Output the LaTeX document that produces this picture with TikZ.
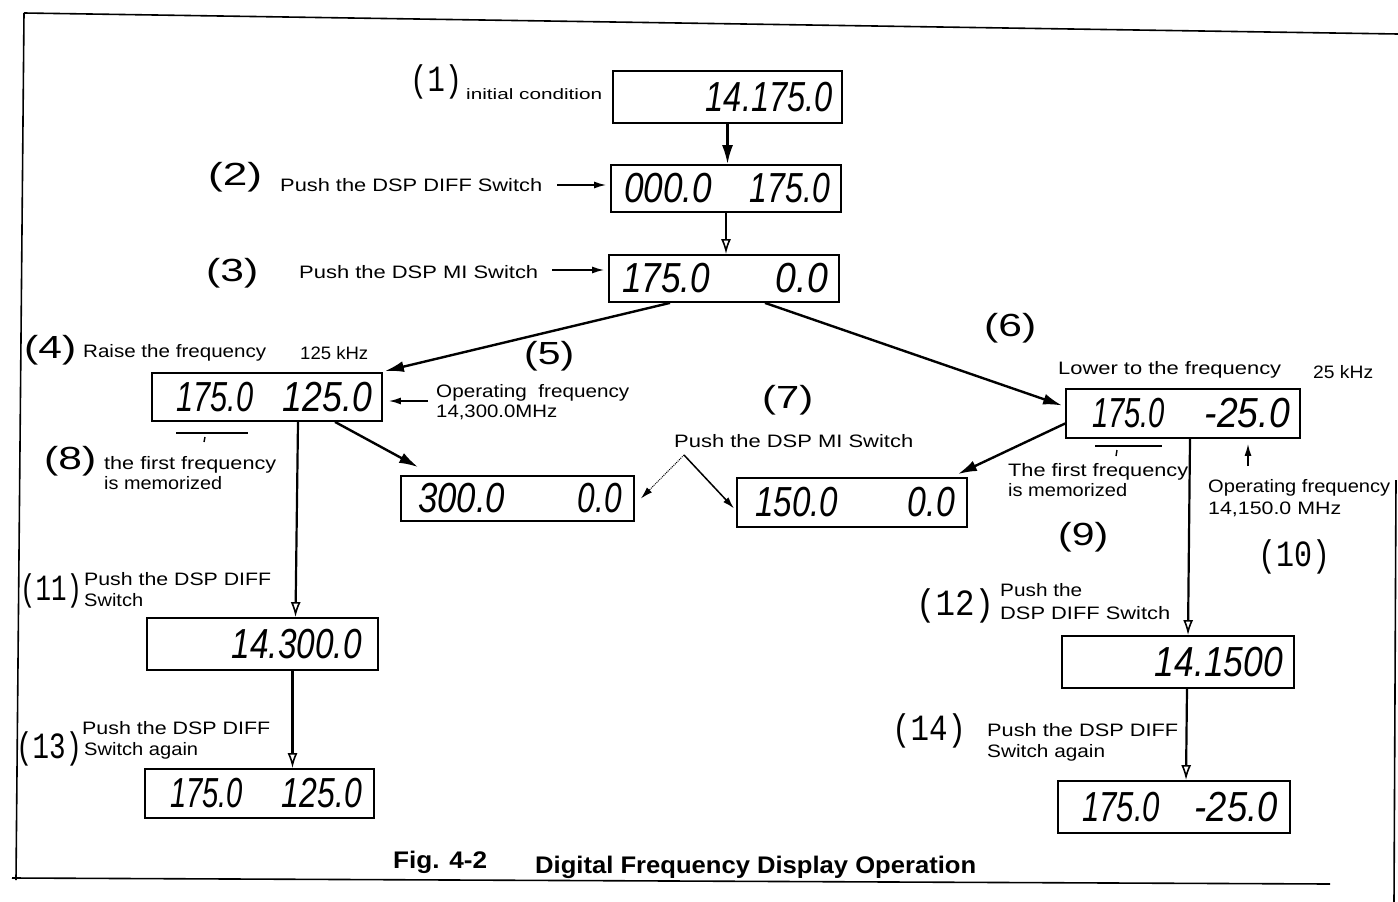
\documentclass[tikz,border=0pt]{standalone}
\usepackage{fontspec}
\usepackage{graphicx}
\setmainfont{Liberation Sans}
\newfontfamily\monof{Liberation Mono}
\usetikzlibrary{arrows.meta,calc}
\newcommand{\fitw}[2]{\resizebox{#1pt}{\height}{#2}}
\begin{document}
\begin{tikzpicture}[x=1pt,y=-1pt,
  lcd/.style={draw, line width=1.8pt, inner sep=0pt},
  seg/.style={inner sep=0pt, font=\fontsize{42}{42}\selectfont\itshape},
  lbl/.style={inner sep=0pt, anchor=base west, font=\fontsize{18}{20}\selectfont},
  slbl/.style={inner sep=0pt, anchor=base west, font=\fontsize{15}{17}\selectfont},
  num/.style={inner sep=0pt, anchor=west, font=\fontsize{32}{34}\selectfont},
  mnum/.style={inner sep=0pt, anchor=west, font=\monof\fontsize{37}{38}\selectfont},
  captxt/.style={inner sep=0pt, anchor=base west, font=\fontsize{24}{26}\selectfont\bfseries},
  conn/.style={line width=2.4pt, -{Latex[length=19pt,width=11pt]}},
  oconn/.style={line width=2.2pt, -{Latex[open,length=15pt,width=10pt,line width=1.6pt]}},
  sconn/.style={line width=1.5pt, -{Latex[length=12pt,width=7pt]}},
  framel/.style={line width=1.6pt}]
\useasboundingbox (0,0) rectangle (1398,902);

% frame
\draw[framel] (24,13) -- (1398,34);
\draw[framel] (24,13) -- (16,880);
\draw[framel] (12,878) -- (1330,884);
\draw[framel] (1396,480) -- (1394,902);

% display boxes
\node[lcd, minimum width=229pt, minimum height=52pt] (B1) at (727.5,97) {};
\node[lcd, minimum width=230pt, minimum height=47pt] (B2) at (726,188.5) {};
\node[lcd, minimum width=230pt, minimum height=47pt] (B3) at (724,278.5) {};
\node[lcd, minimum width=230pt, minimum height=48pt] (B4) at (267,397) {};
\node[lcd, minimum width=233pt, minimum height=45pt] (B5) at (517.5,498.5) {};
\node[lcd, minimum width=230pt, minimum height=49pt] (B7) at (852,502.5) {};
\node[lcd, minimum width=234pt, minimum height=49pt] (B6) at (1183,413.5) {};
\node[lcd, minimum width=231pt, minimum height=52pt] (B11) at (262.5,644) {};
\node[lcd, minimum width=229pt, minimum height=49pt] (B13) at (259.5,793.5) {};
\node[lcd, minimum width=232pt, minimum height=52pt] (B12) at (1178,662) {};
\node[lcd, minimum width=232pt, minimum height=52pt] (B15) at (1174,807) {};

% display readings
\node[seg, anchor=east] (B1r) at (833,97) {\fitw{127}{14.175.0}};
\node[seg, anchor=west] (B2l) at (624,188.5) {\fitw{88}{000.0}};
\node[seg, anchor=east] (B2r) at (830,188.5) {\fitw{80}{175.0}};
\node[seg, anchor=west] (B3l) at (622,278.5) {\fitw{88}{175.0}};
\node[seg, anchor=east] (B3r) at (828,278.5) {\fitw{52}{0.0}};
\node[seg, anchor=west] (B4l) at (176,397) {\fitw{77}{175.0}};
\node[seg, anchor=east] (B4r) at (372,397) {\fitw{89}{125.0}};
\node[seg, anchor=west] (B5l) at (418,498.5) {\fitw{87}{300.0}};
\node[seg, anchor=east] (B5r) at (622,498.5) {\fitw{44}{0.0}};
\node[seg, anchor=west] (B7l) at (755,502.5) {\fitw{83}{150.0}};
\node[seg, anchor=east] (B7r) at (955,502.5) {\fitw{47}{0.0}};
\node[seg, anchor=west] (B6l) at (1092,413.5) {\fitw{73}{175.0}};
\node[seg, anchor=east] (B6r) at (1290,413.5) {\fitw{85}{-25.0}};
\node[seg, anchor=east] (B11r) at (362,644) {\fitw{130}{14.300.0}};
\node[seg, anchor=west] (B13l) at (170,793.5) {\fitw{73}{175.0}};
\node[seg, anchor=east] (B13r) at (362,793.5) {\fitw{80}{125.0}};
\node[seg, anchor=east] (B12r) at (1283,662) {\fitw{128}{14.1500}};
\node[seg, anchor=west] (B15l) at (1082,807) {\fitw{78}{175.0}};
\node[seg, anchor=east] (B15r) at (1278,807) {\fitw{83}{-25.0}};

% step numbers
\node[mnum] (n1) at (410,82) {\fitw{52}{(1)}};
\node[num] (n2) at (208,177) {\fitw{54}{(2)}};
\node[num] (n3) at (206,273) {\fitw{52}{(3)}};
\node[num] (n4) at (24,350) {\fitw{52}{(4)}};
\node[num] (n5) at (524,356) {\fitw{50}{(5)}};
\node[num] (n6) at (984,328) {\fitw{52}{(6)}};
\node[num] (n7) at (762,400) {\fitw{51}{(7)}};
\node[num] (n8) at (44,461) {\fitw{52}{(8)}};
\node[num] (n9) at (1058,537) {\fitw{50}{(9)}};
\node[mnum] (n10) at (1258,557) {\fitw{72}{(10)}};
\node[mnum] (n11) at (20,591) {\fitw{62}{(11)}};
\node[mnum] (n12) at (916,606) {\fitw{78}{(12)}};
\node[mnum] (n13) at (16,749) {\fitw{66}{(13)}};
\node[mnum] (n14) at (892,731) {\fitw{74}{(14)}};

% labels
\node[slbl] (L1) at (466,99) {\fitw{136}{initial condition}};
\node[lbl] (L2) at (280,191) {\fitw{262}{Push the DSP DIFF Switch}};
\node[lbl] (L3) at (299,278) {\fitw{239}{Push the DSP MI Switch}};
\node[lbl] (L4) at (83,357) {\fitw{183}{Raise the frequency}};
\node[lbl] (L4k) at (300,359) {\fitw{68}{125 kHz}};
\node[lbl] (L5a) at (436,397) {\fitw{193}{Operating \ frequency}};
\node[lbl] (L5b) at (436,417) {\fitw{121}{14,300.0MHz}};
\node[lbl] (L6) at (1058,374) {\fitw{223}{Lower to the frequency}};
\node[lbl] (L6k) at (1313,378) {\fitw{60}{25 kHz}};
\node[lbl] (L7) at (674,447) {\fitw{239}{Push the DSP MI Switch}};
\node[lbl] (L8a) at (104,469) {\fitw{172}{the first frequency}};
\node[lbl] (L8b) at (104,489) {\fitw{118}{is memorized}};
\node[lbl] (L9a) at (1008,476) {\fitw{180}{The first frequency}};
\node[lbl] (L9b) at (1008,496) {\fitw{119}{is memorized}};
\node[lbl] (L10a) at (1208,492) {\fitw{182}{Operating frequency}};
\node[lbl] (L10b) at (1208,514) {\fitw{133}{14,150.0 MHz}};
\node[lbl] (L11a) at (84,585) {\fitw{187}{Push the DSP DIFF}};
\node[lbl] (L11b) at (84,606) {\fitw{59}{Switch}};
\node[lbl] (L12a) at (1000,596) {\fitw{82}{Push the}};
\node[lbl] (L12b) at (1000,619) {\fitw{170}{DSP DIFF Switch}};
\node[lbl] (L13a) at (82,734) {\fitw{188}{Push the DSP DIFF}};
\node[lbl] (L13b) at (84,755) {\fitw{114}{Switch again}};
\node[lbl] (L14a) at (987,736) {\fitw{191}{Push the DSP DIFF}};
\node[lbl] (L14b) at (987,757) {\fitw{118}{Switch again}};

% caption
\node[captxt] (C1) at (393,868) {\fitw{94}{Fig. 4-2}};
\node[captxt] (C2) at (535,873) {\fitw{441}{Digital Frequency Display Operation}};

% main connectors
\draw[conn] (B1.south) -- (B1.south |- B2.north);
\draw[oconn] (B2.south) -- (B2.south |- B3.north);
\draw[conn] ($(B3.south)+(-54,0)$) -- ($(B4.north east)+(2,-1)$);
\draw[conn] ($(B3.south)+(41,0)$) -- ($(B6.west)+(-3,-8)$);
\draw[conn] ($(B4.south)+(68,0)$) -- ($(B5.north west)+(18,-8)$);
\draw[conn] ($(B6.west)+(0,10)$) -- ($(B7.north east)+(-10,-3)$);
\draw[oconn] ($(B4.south)+(31,0)$) -- ($(B11.north)+(33,0)$);
\draw[oconn] ($(B11.south)+(30,0)$) -- ($(B13.north)+(33,0)$);
\draw[oconn] ($(B6.south)+(7,0)$) -- ($(B12.north)+(10,0)$);
\draw[oconn] ($(B12.south)+(9,0)$) -- ($(B15.north)+(12,0)$);

% side arrows
\coordinate (a2) at (557,185);
\draw[sconn] (a2) -- ($(a2 -| B2.west)+(-4,0)$);
\coordinate (a3) at (552,270);
\draw[sconn] (a3) -- ($(a3 -| B3.west)+(-4,0)$);
\coordinate (op1) at (428,401);
\draw[sconn] (op1) -- ($(op1 -| B4.east)+(6,0)$);
\coordinate (op2) at (1248,466);
\draw[sconn] (op2) -- ($(op2 |- B6.south)+(0,5)$);
\coordinate (br) at (684,455);
\draw[sconn, line width=1pt, densely dotted] (br) -- ($(B5.east)+(6,0)$);
\draw[sconn] (br) -- ($(B7.west)+(-2,6)$);

% memory underlines
\draw[line width=1.4pt] (176,433) -- (248,433);
\draw[line width=1.4pt] (205,437) -- (204,442);
\draw[line width=1.4pt] (1095,446) -- (1162,446);
\draw[line width=1.4pt] (1117,450) -- (1116,456);
\end{tikzpicture}
\end{document}
